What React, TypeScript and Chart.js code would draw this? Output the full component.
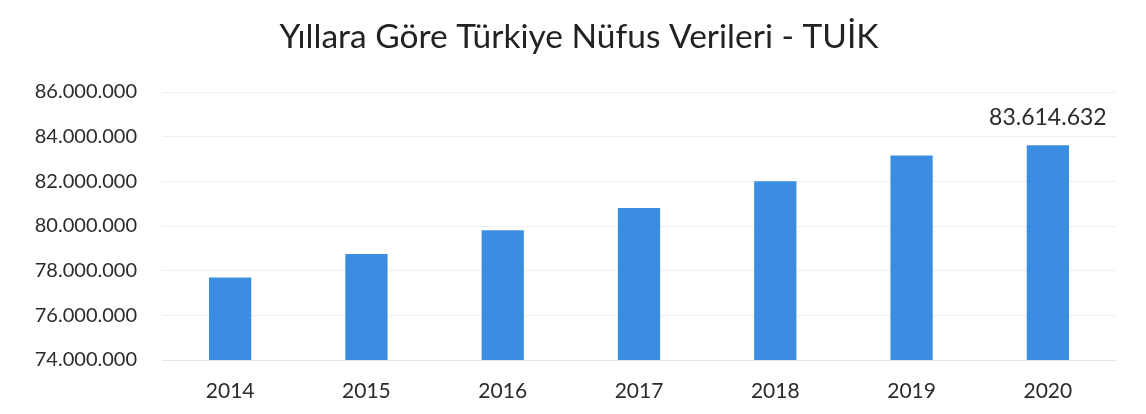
import React, { useEffect, useRef } from "react";
import { Chart, registerables } from "chart.js";

Chart.register(...registerables);

const years = ["2014", "2015", "2016", "2017", "2018", "2019", "2020"];
const population = [77695904, 78741053, 79814871, 80810525, 82003882, 83154997, 83614632];
const labelledIndex = [6];
const titleText = "Yıllara Göre Türkiye Nüfus Verileri - TUİK";

const fmt = (v: number) => Math.round(v).toString().replace(/\B(?=(\d{3})+(?!\d))/g, ".");

const FONT = "Lato, 'Open Sans', sans-serif";

const valueLabelPlugin = {
  id: "valueLabel",
  afterDatasetsDraw(chart: any) {
    const ctx = chart.ctx;
    const meta = chart.getDatasetMeta(0);
    ctx.save();
    ctx.font = `23px ${FONT}`;
    ctx.fillStyle = "#2b2b2b";
    ctx.textAlign = "center";
    ctx.textBaseline = "middle";
    labelledIndex.forEach((i) => {
      const el = meta.data[i];
      ctx.fillText(fmt(population[i]), el.x, el.y - 28);
    });
    ctx.restore();
  },
};

const titlePlugin = {
  id: "customTitle",
  afterDraw(chart: any) {
    const ctx = chart.ctx;
    ctx.save();
    ctx.font = `33.5px ${FONT}`;
    ctx.fillStyle = "#222222";
    ctx.textAlign = "center";
    ctx.textBaseline = "middle";
    ctx.fillText(titleText, chart.width / 2 + 6, 37);
    ctx.restore();
  },
};

export default function App() {
  const ref = useRef<HTMLCanvasElement>(null);
  useEffect(() => {
    document.body.style.margin = "0";
    const chart = new Chart(ref.current!, {
      type: "bar",
      data: {
        labels: years,
        datasets: [
          {
            data: population,
            backgroundColor: "#3a8de0",
            categoryPercentage: 1,
            barPercentage: 0.31,
          },
        ],
      },
      options: {
        animation: false,
        responsive: false,
        layout: { padding: { left: 0, right: 30, top: 92, bottom: 0 } },
        plugins: {
          legend: { display: false },
          tooltip: { enabled: false },
          title: { display: false },
        },
        scales: {
          x: {
            grid: { display: false, drawTicks: false },
            border: { display: true, color: "#e6e6e6" },
            afterFit: (s: any) => {
              s.height = 54;
            },
            ticks: { color: "#2b2b2b", font: { family: FONT, size: 21 }, padding: 19 },
          },
          y: {
            min: 74000000,
            max: 86000000,
            grid: { color: "#eeeeee", drawTicks: false },
            border: { display: false },
            afterFit: (s: any) => {
              s.width = 162;
            },
            ticks: {
              stepSize: 2000000,
              color: "#2b2b2b",
              padding: 25,
              font: { family: FONT, size: 20 },
              callback: (v: any) => fmt(Number(v)),
            },
          },
        },
      },
      plugins: [valueLabelPlugin, titlePlugin],
    });
    return () => chart.destroy();
  }, []);
  return <canvas ref={ref} width={1146} height={414} style={{ display: "block" }} />;
}
